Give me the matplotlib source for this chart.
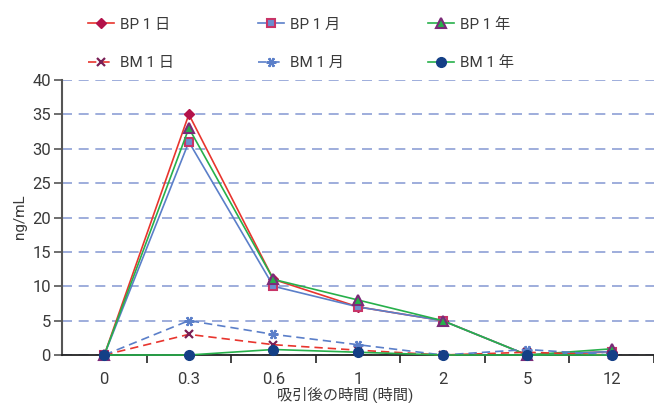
import matplotlib.pyplot as plt

plt.rcParams['font.family'] = ['Roboto', 'Noto Sans CJK JP', 'DejaVu Sans']

# time points after inhalation (hours), shown as equally spaced categories
times = ['0', '0.3', '0.6', '1', '2', '5', '12']

# concentrations (ng/mL)
bp_day = [0, 35, 11, 7, 5, 0, 0.5]
bp_month = [0, 31, 10, 7, 5, 0, 0.5]
bp_year = [0, 33, 11, 8, 5, 0, 0.9]
bm_day = [0, 3, 1.5, 0.7, 0, 0.4, 0]
bm_month = [0, 5, 3, 1.5, 0, 0.8, 0]
bm_year = [0, 0, 0.8, 0.4, 0, 0, 0]

labels = ['BP 1 日', 'BP 1 月', 'BP 1 年', 'BM 1 日', 'BM 1 月', 'BM 1 年']

RED = '#e8352e'
BLUE = '#5b7fc9'
GREEN = '#27b04b'
TXT = '#3a3a3a'

fig = plt.figure(figsize=(6.54, 4.03), dpi=100)
W, H = 654, 403
ax = fig.add_axes([62 / W, 1 - 355 / H, (654 - 62) / W, (355 - 80) / H])

x = list(range(len(times)))

series = [
    (bp_day, dict(color=RED, ls='-', marker='D', ms=5.5, mfc='#b3124a', mec='#b3124a')),
    (bp_month, dict(color=BLUE, ls='-', marker='s', ms=6, mfc='#6b8dcf', mec='#c83468', mew=1.5)),
    (bp_year, dict(color=GREEN, ls='-', marker='^', ms=6.5, mfc=GREEN, mec='#7b2a78', mew=1.5)),
    (bm_day, dict(color=RED, ls=(0, (5, 3)), marker='x', ms=6, mec='#7a1f55', mew=1.6)),
    (bm_month, dict(color=BLUE, ls=(0, (5, 3)), marker=(6, 2, 90), ms=7, mec=BLUE, mew=1.6)),
    (bm_year, dict(color=GREEN, ls='-', marker='o', ms=7, mfc='#143f86', mec='#143f86')),
]

handles = []
for vals, style in series:
    line, = ax.plot(x, vals, lw=1.2, clip_on=False, zorder=3, **style)
    handles.append(line)

ax.set_xlim(-0.5, -0.5 + (654 - 62) / 85.5)
ax.set_ylim(0, 40)
ax.set_yticks(range(0, 41, 5))
ax.set_xticks(x)
ax.set_xticklabels(times)
ax.set_xticks([i + 0.5 for i in x], minor=True)

ax.yaxis.grid(True, color='#8d9fd6', ls=(0, (6, 4)), lw=1.2)
ax.set_axisbelow(True)

for s in ['top', 'right']:
    ax.spines[s].set_visible(False)
ax.spines['left'].set_color('#555555')
ax.spines['left'].set_linewidth(1.5)
ax.spines['bottom'].set_color('#222222')
ax.spines['bottom'].set_linewidth(1.3)

ax.tick_params(axis='y', length=6, width=1.2, color='#555555', labelsize=12, labelcolor=TXT, pad=2)
ax.tick_params(axis='x', which='major', length=0, labelsize=12, labelcolor=TXT, pad=12)
ax.tick_params(axis='x', which='minor', length=6, width=1.2, color='#222222')

fig.text(20 / W, 1 - 217 / H, 'ng/mL', rotation=90, ha='center', va='center', fontsize=11, color=TXT)
fig.text(345 / W, 1 - 395 / H, '吸引後の時間 (時間)', ha='center', va='center', fontsize=11, color=TXT)

# legend: BP series on the first row, BM on the second
order = [0, 3, 1, 4, 2, 5]
fig.legend([handles[i] for i in order], [labels[i] for i in order],
           ncol=3, loc='upper left', bbox_to_anchor=(74 / W, 1 - 4 / H),
           frameon=False, fontsize=11, labelcolor=TXT, handlelength=1.7,
           handletextpad=0.4, columnspacing=5.5, labelspacing=1.6)

fig.savefig('out.png', dpi=100)
